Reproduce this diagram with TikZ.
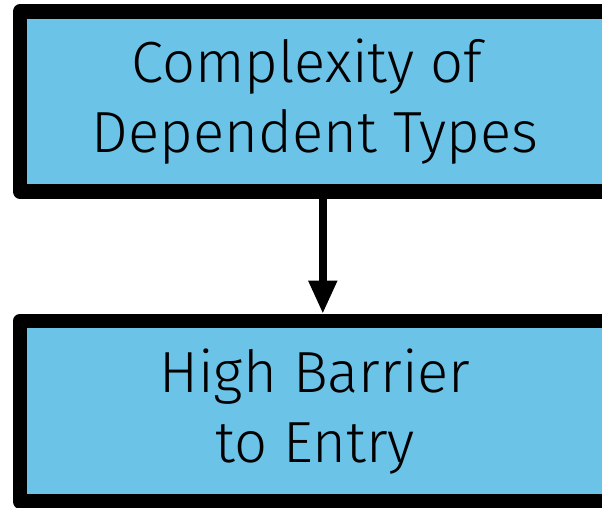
\documentclass[tikz,border=0pt]{standalone}
\usepackage{fontspec}
\setmainfont{Fira Sans Light}
\usetikzlibrary{arrows.meta}
\definecolor{boxblue}{HTML}{6CC3E8}
\tikzset{
  stagebox/.style={draw=black, fill=boxblue, line width=14.6pt, line join=round,
    rectangle, minimum width=590pt, align=center, inner sep=0pt,
    font=\fontsize{58}{70}\selectfont},
  flow/.style={draw=black, line width=7.5pt, -{Triangle[width=27pt,length=33pt]}}
}
% keeps the word space that ends a wrapped line
\newcommand{\keptspace}{\kern\fontdimen2\font}
\begin{document}
\begin{tikzpicture}[x=1pt,y=1pt]
  \useasboundingbox (0,0) rectangle (602,-508);
  \node[stagebox, minimum height=180pt] (cx) at (315,-101.5) {Complexity of\keptspace\\Dependent Types};
  \node[stagebox, minimum height=180.5pt] (hb) at (315,-411.25) {High Barrier\\to Entry};
  \draw[flow] ([xshift=7.8pt]cx.south) -- ([xshift=7.8pt]hb.north);
\end{tikzpicture}
\end{document}
